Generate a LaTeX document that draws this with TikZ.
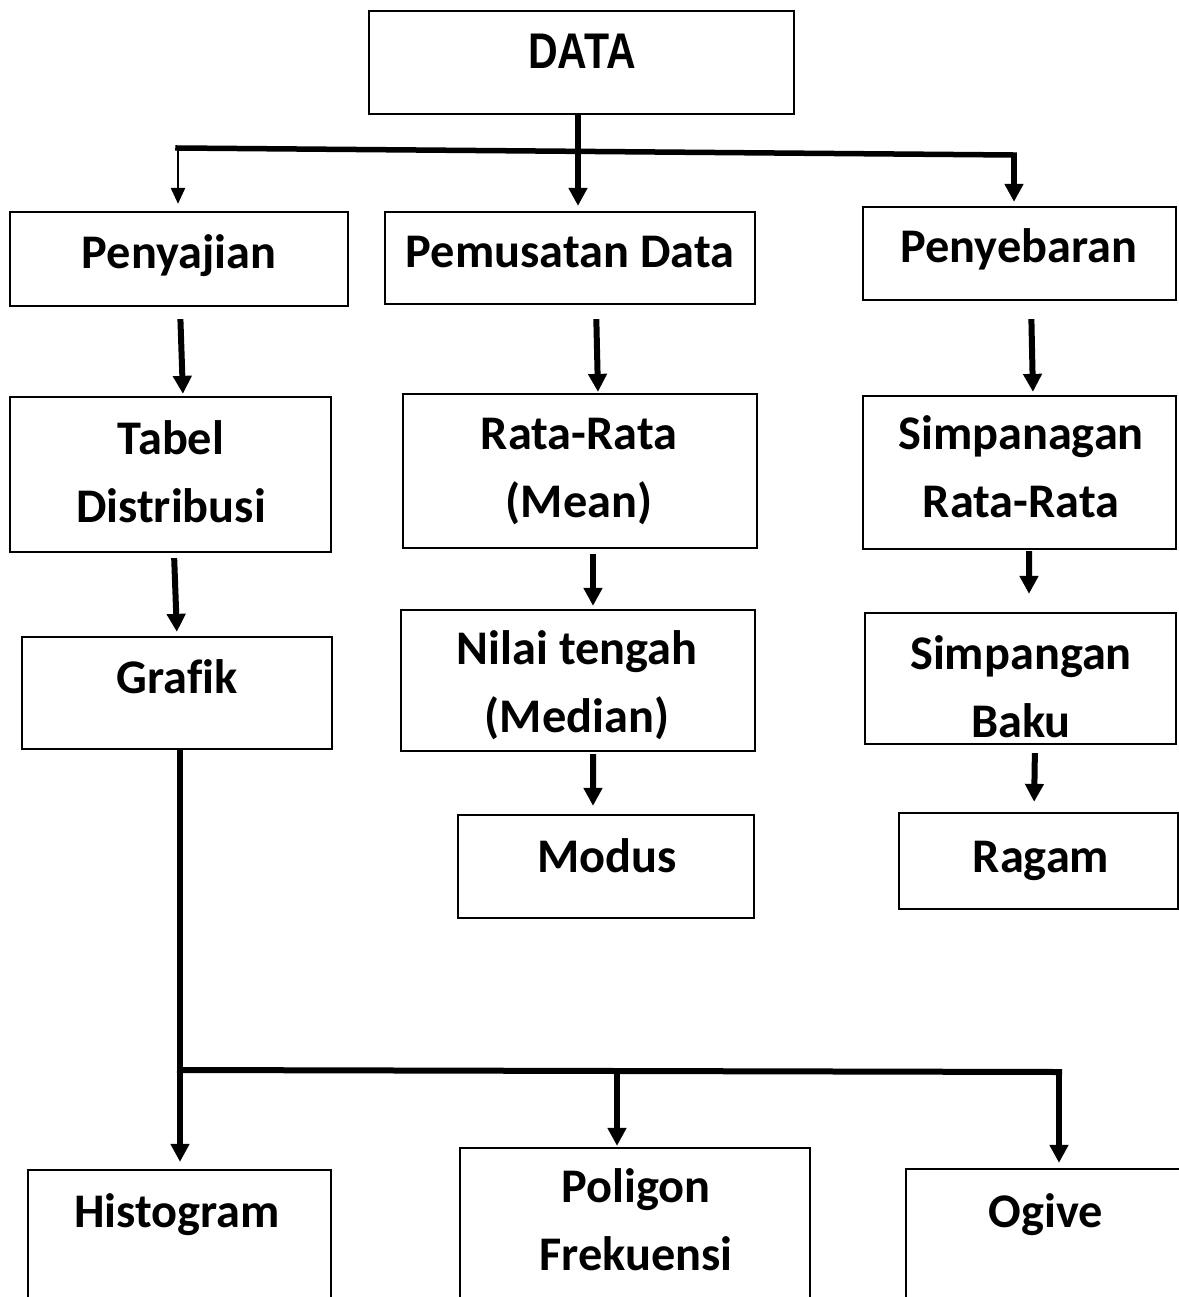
\documentclass[tikz,border=0pt]{standalone}
\usepackage{fontspec}
\setmainfont{Carlito}[Ligatures=CommonOff]
\newfontfamily\datafont[FakeStretch=0.82]{Liberation Sans}
\usetikzlibrary{arrows.meta}

\begin{document}
\begin{tikzpicture}[
  box/.style={draw, line width=0.045cm, inner sep=0pt},
  txt/.style={anchor=base, align=center, inner sep=0pt, font=\bfseries\fontsize{27.5}{38.7}\selectfont},
  arr/.style={line width=0.12cm, -{Triangle[width=0.36cm,length=0.36cm]}},
  bus/.style={line width=0.11cm, line cap=rect}
]
\useasboundingbox (0,0) rectangle (23.58,-25.94);
\clip (0,0) rectangle (23.58,-25.94);

\node[box, minimum width=8.50cm, minimum height=2.06cm] (data) at (11.63,-1.25) {};
\node[box, minimum width=6.76cm, minimum height=1.88cm] (penyajian) at (3.58,-5.18) {};
\node[box, minimum width=7.40cm, minimum height=1.84cm] (pemusatan) at (11.40,-5.16) {};
\node[box, minimum width=6.26cm, minimum height=1.86cm] (penyebaran) at (20.39,-5.07) {};
\node[box, minimum width=6.42cm, minimum height=3.10cm] (tabel) at (3.41,-9.49) {};
\node[box, minimum width=7.08cm, minimum height=3.08cm] (rata) at (11.60,-9.42) {};
\node[box, minimum width=6.26cm, minimum height=3.06cm] (simpra) at (20.39,-9.45) {};
\node[box, minimum width=6.20cm, minimum height=2.24cm] (grafik) at (3.54,-13.86) {};
\node[box, minimum width=7.08cm, minimum height=2.82cm] (median) at (11.56,-13.61) {};
\node[box, minimum width=6.22cm, minimum height=2.62cm] (baku) at (20.41,-13.57) {};
\node[box, minimum width=5.92cm, minimum height=2.06cm] (modus) at (12.12,-17.33) {};
\node[box, minimum width=5.58cm, minimum height=1.92cm] (ragam) at (20.77,-17.22) {};
\node[box, minimum width=6.06cm, minimum height=3.20cm] (histogram) at (3.59,-25.00) {};
\node[box, minimum width=7.00cm, minimum height=3.64cm] (poligon) at (12.70,-24.78) {};
\node[box, minimum width=6.48cm, minimum height=3.22cm] (ogive) at (21.36,-24.99) {};

\node[txt, font=\datafont\bfseries\fontsize{28.5}{34}\selectfont] (t-data) at (11.64,-1.36) {DATA};
\node[txt] (t-penyajian) at (3.58,-5.36) {Penyajian};
\node[txt] (t-pemusatan) at (11.40,-5.34) {Pemusatan Data};
\node[txt] (t-penyebaran) at (20.38,-5.24) {Penyebaran};
\node[txt] (t-tabel) at (3.42,-10.44) {Tabel\\Distribusi};
\node[txt] (t-rata) at (11.58,-10.34) {Rata-Rata\\(Mean)};
\node[txt] (t-simpra) at (20.42,-10.34) {Simpanagan\\Rata-Rata};
\node[txt] (t-grafik) at (3.54,-13.86) {Grafik};
\node[txt] (t-median) at (11.54,-14.64) {Nilai tengah\\(Median)};
\node[txt] (t-baku) at (20.42,-14.74) {Simpangan\\Baku};
\node[txt] (t-modus) at (12.14,-17.44) {Modus};
\node[txt] (t-ragam) at (20.82,-17.44) {Ragam};
\node[txt] (t-histogram) at (3.54,-24.54) {Histogram};
\node[txt] (t-poligon) at (12.72,-25.40) {Poligon\\Frekuensi};
\node[txt] (t-ogive) at (20.92,-24.54) {Ogive};

\coordinate (busL) at (3.56,-2.96);
\coordinate (busR) at (20.28,-3.10);
\draw[bus] (busL) -- (busR);
\draw[line width=0.05cm, -{Triangle[width=0.28cm,length=0.32cm]}, shorten >=0.14cm] (busL) -- (busL |- penyajian.north);
\draw[arr, shorten >=0.1cm] ([xshift=-0.07cm]data.south) -- ([xshift=0.16cm]pemusatan.north);
\draw[arr, shorten >=0.08cm] (busR) -- (busR |- penyebaran.north);

\draw[arr, shorten <=0.24cm, shorten >=0.04cm] ([xshift=0.02cm]penyajian.south) -- ([xshift=0.25cm]tabel.north);
\draw[arr, shorten <=0.1cm, shorten >=0.08cm] ([xshift=0.07cm]tabel.south) -- (grafik.north);
\draw[arr, shorten <=0.28cm, shorten >=0.02cm] ([xshift=0.52cm]pemusatan.south) -- ([xshift=0.36cm]rata.north);
\draw[arr, shorten <=0.1cm, shorten >=0.06cm] ([xshift=0.26cm]rata.south) -- ([xshift=0.3cm]median.north);
\draw[arr, shorten <=0.04cm, shorten >=0.16cm] ([xshift=0.3cm]median.south) -- ([xshift=-0.26cm]modus.north);
\draw[arr, shorten <=0.36cm, shorten >=0.06cm] ([xshift=0.23cm]penyebaran.south) -- ([xshift=0.27cm]simpra.north);
\draw[arr, shorten <=0.02cm, shorten >=0.36cm] ([xshift=0.19cm]simpra.south) -- ([xshift=0.17cm]baku.north);
\draw[arr, shorten <=0.16cm, shorten >=0.2cm] ([xshift=0.29cm]baku.south) -- ([xshift=-0.09cm]ragam.north);

\coordinate (jL) at (3.60,-21.40);
\coordinate (jM) at (12.34,-21.40);
\coordinate (jR) at (21.18,-21.44);
\draw[bus, line width=0.12cm] (jL) -- (jR);
\draw[arr, shorten >=0.14cm] (grafik.south -| jL) -- (jL |- histogram.north);
\draw[arr, shorten >=0.02cm] (jM) -- (jM |- poligon.north);
\draw[arr, shorten >=0.1cm] (jR) -- (jR |- ogive.north);
\end{tikzpicture}
\end{document}
